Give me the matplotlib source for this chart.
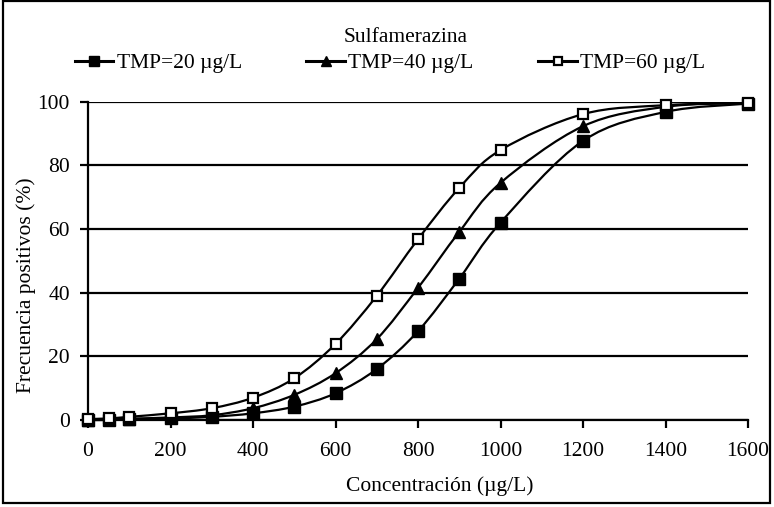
import matplotlib

matplotlib.use("Agg")
import matplotlib.pyplot as plt
import numpy as np
from matplotlib.lines import Line2D
from matplotlib.patches import PathPatch, Rectangle
from matplotlib.path import Path

plt.rcParams["font.family"] = ["Liberation Serif", "DejaVu Serif"]

# ----------------------------------------------------------------- dati
conc = [0, 50, 100, 200, 300, 400, 500, 600, 700, 800, 900, 1000, 1200, 1400, 1600]
tmp20 = [0, 0, 0.3, 0.5, 1.0, 2.1, 4.2, 8.4, 16.0, 27.9, 44.4, 62.0, 87.7, 96.8, 99.4]
tmp40 = [0, 0.2, 0.4, 0.8, 1.5, 3.7, 7.9, 14.7, 25.4, 41.5, 59.1, 74.5, 92.3, 98.4, 99.6]
tmp60 = [0.3, 0.5, 1.0, 2.1, 3.7, 7.0, 13.1, 23.9, 39.0, 56.8, 72.9, 84.8, 96.1, 98.9, 99.6]
labels = ["TMP=20 µg/L", "TMP=40 µg/L", "TMP=60 µg/L"]
x_ticks = [0, 200, 400, 600, 800, 1000, 1200, 1400, 1600]
y_ticks = [0, 20, 40, 60, 80, 100]

FS = 15.5
W, H = 774, 507
# stile: (marker, facecolor, size, edge width)
STYLES = [("s", "black", 8.5, 1.0), ("^", "black", 8.5, 1.0), ("s", "white", 6.5, 1.6)]


def smooth_path(x, y, t=1 / 6):
    """Curva tipo Excel: Bezier cubiche passanti per i punti."""
    x, y = np.asarray(x, float), np.asarray(y, float)
    verts = [(x[0], y[0])]
    codes = [Path.MOVETO]
    n = len(x)
    for i in range(n - 1):
        p0 = (x[max(i - 1, 0)], y[max(i - 1, 0)])
        p1 = (x[i], y[i])
        p2 = (x[i + 1], y[i + 1])
        p3 = (x[min(i + 2, n - 1)], y[min(i + 2, n - 1)])
        c1 = (p1[0] + (p2[0] - p0[0]) * t, p1[1] + (p2[1] - p0[1]) * t)
        c2 = (p2[0] - (p3[0] - p1[0]) * t, p2[1] - (p3[1] - p1[1]) * t)
        verts += [c1, c2, p2]
        codes += [Path.CURVE4] * 3
    return Path(verts, codes)


fig = plt.figure(figsize=(W / 100, H / 100), dpi=100)
# area del grafico in pixel: x 88..748, y 101.7..420
ax = fig.add_axes([88 / W, 1 - 420 / H, 660 / W, 318.3 / H])

handles = []
for ys, lab, (m, fc, ms, mew) in zip([tmp20, tmp40, tmp60], labels, STYLES):
    ax.add_patch(PathPatch(smooth_path(conc, ys), fill=False, lw=1.6,
                           color="black", zorder=3, clip_on=False))
    ax.plot(conc, ys, ls="none", marker=m, ms=ms, mfc=fc, mec="black",
            mew=mew, zorder=4, clip_on=False)
    handles.append(Line2D([], [], color="black", lw=2.2, marker=m, ms=ms * 0.85,
                          mfc=fc, mec="black", mew=mew))

ax.set_xlim(0, 1600)
ax.set_ylim(0, 100)
ax.set_xticks(x_ticks)
ax.set_yticks(y_ticks)
ax.yaxis.grid(True, color="black", lw=1.6)
ax.set_axisbelow(True)
for s in ["top", "right"]:
    ax.spines[s].set_visible(False)
for s in ["left", "bottom"]:
    ax.spines[s].set_linewidth(1.6)
ax.tick_params(direction="out", length=6, width=1.6, labelsize=FS)
ax.tick_params(axis="x", pad=10)
ax.tick_params(axis="y", pad=7)
ax.set_xlabel("Concentración (µg/L)", fontsize=FS)
ax.xaxis.set_label_coords(0.533, (420 - 476) / 318.3, transform=ax.transAxes)
ax.set_ylabel("Frecuencia positivos (%)", fontsize=FS)
ax.yaxis.set_label_coords((36 - 88) / 660, (420 - 285) / 318.3, transform=ax.transAxes)

fig.text(406 / W, 1 - 38 / H, "Sulfamerazina", ha="center", va="center", fontsize=FS)
fig.legend(handles, labels, loc="center", bbox_to_anchor=(390 / W, 1 - 63 / H), ncol=3,
           frameon=False, fontsize=FS, handlelength=1.8, handletextpad=0.15,
           columnspacing=3.0, borderpad=0, borderaxespad=0)

fig.patches.append(Rectangle((3 / W, 4 / H), 767 / W, 502 / H, transform=fig.transFigure,
                             fill=False, lw=1.6, ec="black"))

fig.savefig("out.png", dpi=100)
